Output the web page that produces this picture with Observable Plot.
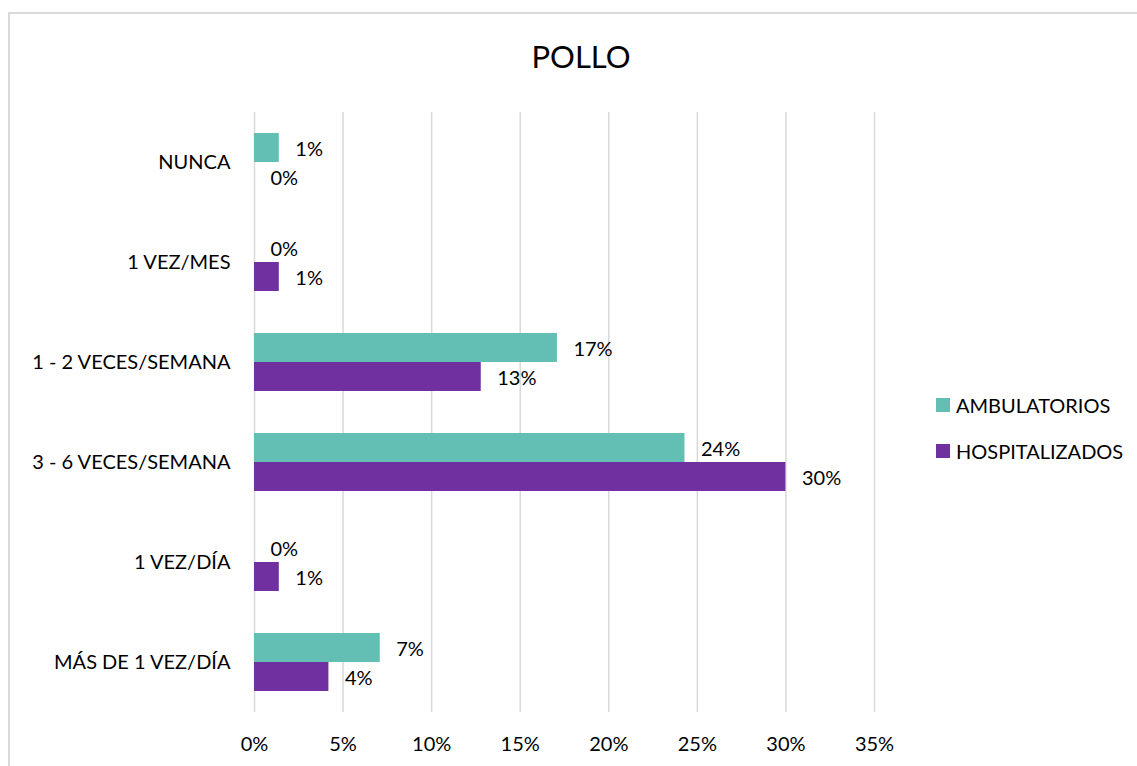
<!DOCTYPE html>
<html>
<head>
<meta charset="utf-8">
<script src="https://cdn.jsdelivr.net/npm/d3@7"></script>
<script src="https://cdn.jsdelivr.net/npm/@observablehq/plot@0.6"></script>
<style>
  html, body { margin: 0; padding: 0; background: #fff; }
  #wrap { position: relative; width: 1137px; height: 766px; overflow: hidden; font-family: Lato, "Open Sans", sans-serif; color: #000; }
  #frame { position: absolute; left: 8px; top: 12px; width: 1140px; height: 770px; border-top: 2px solid #dadada; border-left: 2px solid #dadada; box-sizing: border-box; }
  #title { position: absolute; top: 41px; left: 0; width: 1162px; text-align: center; font-size: 31px; line-height: 1; }
  #chart { position: absolute; left: 0; top: 0; }
  .leg { position: absolute; left: 936px; font-size: 20px; line-height: 1; display: flex; align-items: center; white-space: nowrap; }
  .leg span.sw { display: inline-block; width: 14px; height: 14px; margin-right: 6px; }
</style>
</head>
<body>
<div id="wrap">
  <div id="frame"></div>
  <div id="chart"></div>
  <div id="title">POLLO</div>
  <div id="legend"></div>
</div>
<script>
const categories = ["NUNCA", "1 VEZ/MES", "1 - 2 VECES/SEMANA", "3 - 6 VECES/SEMANA", "1 VEZ/DÍA", "MÁS DE 1 VEZ/DÍA"];
const ambulatorios = [1.4, 0, 17.1, 24.3, 0, 7.1];
const hospitalizados = [0, 1.4, 12.8, 30.0, 1.4, 4.2];
const xTicks = [0, 5, 10, 15, 20, 25, 30, 35];
const seriesNames = ["AMBULATORIOS", "HOSPITALIZADOS"];
const seriesColors = ["#63bfb4", "#7030a0"];

const amb = categories.map((c, i) => ({category: c, value: ambulatorios[i]}));
const hosp = categories.map((c, i) => ({category: c, value: hospitalizados[i]}));
const fmt = d => Math.round(d.value) + "%";

const chart = Plot.plot({
  width: 1137,
  height: 766,
  marginLeft: 254,
  marginRight: 263,
  marginTop: 112,
  marginBottom: 54,
  style: {fontFamily: "Lato, 'Open Sans', sans-serif", fontSize: "20px", color: "#000", background: "transparent"},
  x: {domain: [0, 35]},
  y: {domain: categories, paddingInner: 0.42, paddingOuter: 0.21},
  marks: [
    Plot.ruleX(xTicks, {stroke: "#d9d9d9", strokeWidth: 1.5}),
    Plot.barX(amb, {x: "value", y: "category", fill: seriesColors[0], insetBottom: 29}),
    Plot.barX(hosp, {x: "value", y: "category", fill: seriesColors[1], insetTop: 29}),
    Plot.text(amb, {x: "value", y: "category", text: fmt, dx: 16, dy: -13, textAnchor: "start", fill: "#000", fontSize: 20}),
    Plot.text(hosp, {x: "value", y: "category", text: fmt, dx: 16, dy: 16, textAnchor: "start", fill: "#000", fontSize: 20}),
    Plot.axisY({tickSize: 0, tickPadding: 24, fontSize: 20, label: null}),
    Plot.axisX({ticks: xTicks, tickFormat: d => d + "%", tickSize: 0, tickPadding: 24, fontSize: 20, label: null})
  ]
});
document.getElementById("chart").appendChild(chart);

const legend = document.getElementById("legend");
const legTops = [395, 441];
seriesNames.forEach((name, i) => {
  const div = document.createElement("div");
  div.className = "leg";
  div.style.top = legTops[i] + "px";
  const sw = document.createElement("span");
  sw.className = "sw";
  sw.style.background = seriesColors[i];
  div.appendChild(sw);
  div.appendChild(document.createTextNode(name));
  legend.appendChild(div);
});
</script>
</body>
</html>
